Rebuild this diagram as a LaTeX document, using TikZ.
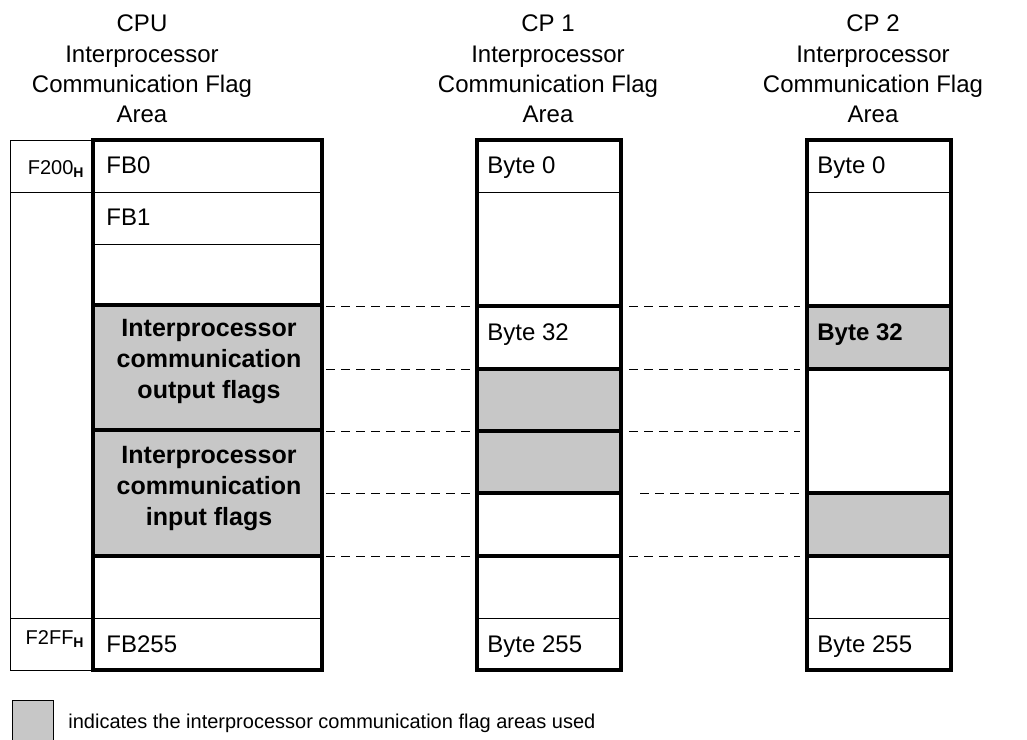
\documentclass[tikz,border=0pt]{standalone}
\usepackage{fontspec}
\setmainfont{Liberation Sans}
\usepackage{tikz}
\usetikzlibrary{positioning}
\definecolor{flagfill}{gray}{0.78}

\begin{document}
\begin{tikzpicture}[x=0.5pt, y=-0.5pt,
    every node/.style={font=\fontsize{12}{15.2}\selectfont, inner sep=0pt},
    heavy/.style={line width=1.6pt},
    light/.style={line width=0.5pt},
    link/.style={line width=0.5pt, dash pattern=on 4.5pt off 3pt},
    used/.style={fill=flagfill},
    title/.style={align=center},
    entry/.style={anchor=base west},
    addr/.style={anchor=base east, font=\fontsize{10}{12}\selectfont},
    usedtext/.style={align=center, font=\fontsize{12.5}{15.5}\selectfont\bfseries}]
    \useasboundingbox (0,0) rectangle (1027,739);

    % CPU oblast
    \fill[used] (93,305) rectangle (322,556);
    \draw[light] (10,140) rectangle (93,670);
    \draw[light] (10,192) -- (322,192) (93,244) -- (322,244) (10,618) -- (322,618);
    \foreach \y in {305,430,556} \draw[heavy] (93,\y) -- (322,\y);
    \draw[heavy] (93,140) rectangle (322,670);

    \node[title] (cputitle) at (142,69) {CPU\\Interprocessor\\Communication Flag\\Area};
    \node[addr] (f200) at (85,174) {F200\textsubscript{\textbf{H}}};
    \node[addr] (f2ff) at (85,644) {F2FF\textsubscript{\textbf{H}}};
    \node[entry] (fb0) at (106,173) {FB0};
    \node[entry] (fb1) at (106,225) {FB1};
    \node[entry] (fb255) at (106,652) {FB255};
    \node[usedtext] (outflags) at (209,362) {Interprocessor\\communication\\output flags};
    \node[usedtext] (inflags) at (209,489) {Interprocessor\\communication\\input flags};

    % CP 1 oblast
    \fill[used] (477,369) rectangle (621,493);
    \draw[light] (477,192) -- (621,192) (477,618) -- (621,618);
    \foreach \y in {306,369,431,493,556} \draw[heavy] (477,\y) -- (621,\y);
    \draw[heavy] (477,140) rectangle (621,670);

    \node[title] (cp1title) at (548,69) {CP 1\\Interprocessor\\Communication Flag\\Area};
    \node[entry] (cp1byte0) at (487,173) {Byte 0};
    \node[entry] (cp1byte32) at (487,340) {Byte 32};
    \node[entry] (cp1byte255) at (487,652) {Byte 255};

    % CP 2 oblast
    \fill[used] (807,306) rectangle (951,369) (807,493) rectangle (951,556);
    \draw[light] (807,192) -- (951,192) (807,618) -- (951,618);
    \foreach \y in {306,369,493,556} \draw[heavy] (807,\y) -- (951,\y);
    \draw[heavy] (807,140) rectangle (951,670);

    \node[title] (cp2title) at (873,69) {CP 2\\Interprocessor\\Communication Flag\\Area};
    \node[entry] (cp2byte0) at (817,173) {Byte 0};
    \node[entry, font=\fontsize{12}{15.2}\selectfont\bfseries] (cp2byte32) at (817,340) {Byte 32};
    \node[entry] (cp2byte255) at (817,652) {Byte 255};

    % prerusovane spojnice
    \foreach \y in {306,369,431,493,556} \draw[link] (326,\y) -- (470,\y);
    \foreach \y in {306,369,431,556} \draw[link] (629,\y) -- (800,\y);
    \draw[link] (640,493) -- (800,493);

    % legenda
    \draw[light, used] (12,700) rectangle (53,741);
    \node[entry, font=\fontsize{10}{12}\selectfont] (legend) at (68,728)
        {indicates the interprocessor communication flag areas used};
\end{tikzpicture}
\end{document}
